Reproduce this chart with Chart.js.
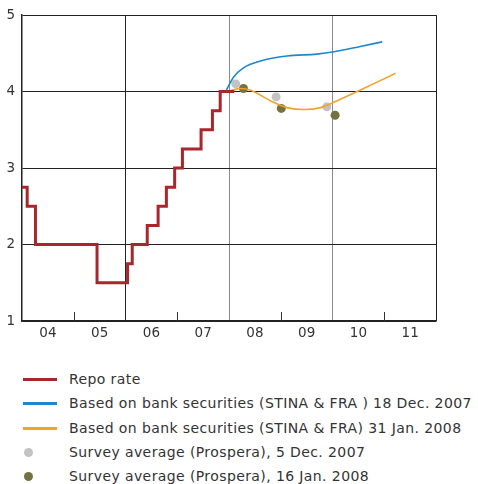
<!DOCTYPE html>
<html>
<head>
<meta charset="utf-8">
<script src="https://cdn.jsdelivr.net/npm/chart.js@4.4.1/dist/chart.umd.min.js"></script>
<style>
  body { margin: 0; background: #fff; font-family: "DejaVu Sans", sans-serif; color: #333; }
  #wrap { position: relative; width: 478px; height: 484px; }
  #chartBox { position: absolute; left: 0; top: 0; width: 478px; height: 345px; }
  #legend { position: absolute; left: 0; top: 367px; width: 478px; }
  .row { position: relative; height: 24.3px; font-size: 14px; letter-spacing: 0.4px; line-height: 24px; white-space: nowrap; }
  .row .swatch { position: absolute; left: 23px; top: 11px; width: 34px; height: 3px; }
  .row .dot { position: absolute; left: 24px; top: 8px; width: 9px; height: 9px; border-radius: 50%; }
  .row .txt { position: absolute; left: 69px; top: 0; }
</style>
</head>
<body>
<div id="wrap">
  <div id="chartBox"><canvas id="chart"></canvas></div>
  <div id="legend"></div>
</div>
<script>
// repo rate: decision dates (fraction of year) and new rate
const repoDates = [2004.0, 2004.10, 2004.26, 2005.45, 2006.04, 2006.13, 2006.42, 2006.63, 2006.79, 2006.95, 2007.10, 2007.46, 2007.68, 2007.83, 2008.10];
const repoRates = [2.75, 2.5, 2.0, 1.5, 1.75, 2.0, 2.25, 2.5, 2.75, 3.0, 3.25, 3.5, 3.75, 4.0, 4.0];

// forward rates 18 Dec 2007
const dec07Dates = [2007.95, 2008.09, 2008.28, 2008.61, 2009.12, 2009.70, 2010.03, 2010.54, 2010.96];
const dec07Rates = [4.02, 4.19, 4.31, 4.40, 4.465, 4.49, 4.52, 4.59, 4.65];

// forward rates 31 Jan 2008
const jan08Dates = [2008.02, 2008.22, 2008.41, 2008.80, 2009.12, 2009.45, 2009.77, 2010.09, 2010.54, 2011.22];
const jan08Rates = [4.01, 4.04, 4.02, 3.88, 3.79, 3.765, 3.79, 3.88, 4.02, 4.24];

// Prospera surveys
const surveyDec07Dates = [2008.13, 2008.91, 2009.89];
const surveyDec07Rates = [4.10, 3.93, 3.80];
const surveyJan08Dates = [2008.28, 2009.01, 2010.05];
const surveyJan08Rates = [4.04, 3.78, 3.69];

const yearLabels = ["04", "05", "06", "07", "08", "09", "10", "11"];

const toPoints = (xs, ys) => xs.map((x, i) => ({x: x, y: ys[i]}));

const datasets = [
    {
        label: "Repo rate",
        data: toPoints(repoDates, repoRates),
        borderColor: "#a8272c",
        borderWidth: 3,
        showLine: true,
        stepped: true,
        pointRadius: 0,
        kind: "line"
    },
    {
        label: "Based on bank securities (STINA & FRA ) 18 Dec. 2007",
        data: toPoints(dec07Dates, dec07Rates),
        borderColor: "#1b88cf",
        borderWidth: 1.6,
        showLine: true,
        cubicInterpolationMode: "monotone",
        pointRadius: 0,
        kind: "line"
    },
    {
        label: "Based on bank securities (STINA & FRA) 31 Jan. 2008",
        data: toPoints(jan08Dates, jan08Rates),
        borderColor: "#f0a22e",
        borderWidth: 1.6,
        showLine: true,
        cubicInterpolationMode: "monotone",
        pointRadius: 0,
        kind: "line"
    },
    {
        label: "Survey average (Prospera), 5 Dec. 2007",
        data: toPoints(surveyDec07Dates, surveyDec07Rates),
        showLine: false,
        pointRadius: 4.5,
        pointBackgroundColor: "#c3c3c3",
        pointBorderWidth: 0,
        borderColor: "#c3c3c3",
        kind: "dot"
    },
    {
        label: "Survey average (Prospera), 16 Jan. 2008",
        data: toPoints(surveyJan08Dates, surveyJan08Rates),
        showLine: false,
        pointRadius: 4.5,
        pointBackgroundColor: "#74733f",
        pointBorderWidth: 0,
        borderColor: "#74733f",
        kind: "dot"
    }
];

// short tick marks inside the plot at odd years
const yearTicks = {
    id: "yearTicks",
    afterDraw(chart) {
        const ctx = chart.ctx;
        const xs = chart.scales.x;
        const bottom = chart.chartArea.bottom;
        ctx.save();
        ctx.strokeStyle = "#333";
        ctx.lineWidth = 1;
        [2005, 2007, 2009, 2011].forEach(v => {
            const px = Math.round(xs.getPixelForValue(v)) + 0.5;
            ctx.beginPath();
            ctx.moveTo(px, bottom);
            ctx.lineTo(px, bottom - 9);
            ctx.stroke();
        });
        ctx.restore();
    }
};

const gridColorX = (ctx) => {
    const v = ctx.tick && ctx.tick.value;
    if (v === 2006 || v === 2012) return "#222";
    if (v === 2008 || v === 2010) return "#8a8a8a";
    return "rgba(0,0,0,0)";
};

const chart = new Chart(document.getElementById("chart"), {
    type: "scatter",
    data: {datasets: datasets},
    options: {
        responsive: true,
        maintainAspectRatio: false,
        animation: false,
        layout: {padding: {top: 14, right: 42, left: 0, bottom: 0}},
        plugins: {legend: {display: false}, tooltip: {enabled: false}},
        scales: {
            x: {
                type: "linear",
                min: 2004,
                max: 2012,
                afterFit: (s) => { s.height = 24; },
                afterBuildTicks: (s) => {
                    const t = [];
                    for (let v = 2004; v <= 2012.001; v += 0.5) t.push({value: Math.round(v * 10) / 10});
                    s.ticks = t;
                },
                ticks: {
                    autoSkip: false,
                    maxRotation: 0,
                    padding: 4,
                    color: "#333",
                    font: {family: "DejaVu Sans", size: 13.5},
                    callback: (v) => {
                        const i = Math.floor(v - 2004);
                        return (v % 1 !== 0 && i >= 0 && i < yearLabels.length) ? yearLabels[i] : "";
                    }
                },
                grid: {color: gridColorX, lineWidth: 1, drawTicks: false},
                border: {color: "#222", width: 1.5}
            },
            y: {
                min: 1,
                max: 5,
                afterFit: (s) => { s.width = 22; },
                ticks: {
                    stepSize: 1,
                    padding: 7,
                    color: "#333",
                    font: {family: "DejaVu Sans", size: 13.5}
                },
                grid: {color: "#222", lineWidth: 1, drawTicks: false},
                border: {color: "#222", width: 1.5}
            }
        }
    },
    plugins: [yearTicks]
});

// legend built from the datasets
const legend = document.getElementById("legend");
chart.data.datasets.forEach(ds => {
    const row = document.createElement("div");
    row.className = "row";
    const mark = document.createElement("div");
    if (ds.kind === "dot") {
        mark.className = "dot";
        mark.style.background = ds.pointBackgroundColor;
    } else {
        mark.className = "swatch";
        mark.style.background = ds.borderColor;
    }
    const txt = document.createElement("span");
    txt.className = "txt";
    txt.textContent = ds.label;
    row.appendChild(mark);
    row.appendChild(txt);
    legend.appendChild(row);
});
</script>
</body>
</html>
